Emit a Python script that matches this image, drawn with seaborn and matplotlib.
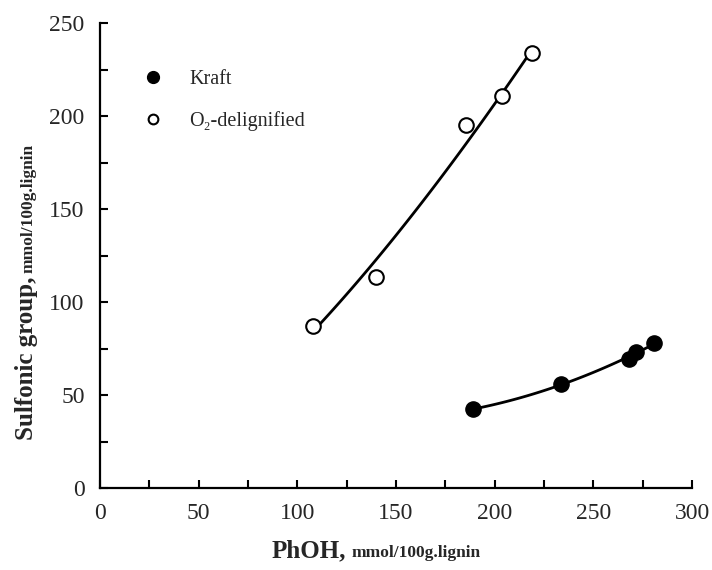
import matplotlib
matplotlib.use("Agg")
import matplotlib.pyplot as plt
import seaborn as sns
import pandas as pd
import numpy as np
from matplotlib.lines import Line2D

# data
kraft_x = [188.9, 233.6, 268.1, 271.6, 280.8]
kraft_y = [42.3, 55.9, 69.2, 73.3, 77.8]
o2_x = [108.0, 139.8, 185.5, 203.7, 219.1]
o2_y = [87.3, 113.6, 195.4, 211.0, 233.8]
x_ticks = [0, 50, 100, 150, 200, 250, 300]
y_ticks = [0, 50, 100, 150, 200, 250]
labels = ["Kraft", "O\u2082-delignified"]

sns.set_style("white")
plt.rcParams['font.family'] = ['Liberation Serif', 'DejaVu Serif']

fig = plt.figure(figsize=(7.12, 5.70), dpi=100)
ax = fig.add_axes([100/712, 82/570, 592/712, 465/570])

kdf = pd.DataFrame({"x": kraft_x, "y": kraft_y})
odf = pd.DataFrame({"x": o2_x, "y": o2_y})

# Kraft: polynomial trend line
sns.regplot(data=kdf, x="x", y="y", order=2, ci=None, scatter=False, ax=ax,
            line_kws=dict(color="black", lw=2.0, zorder=2))
# O2-delignified: power-law trend line fitted to the data
b, lna = np.polyfit(np.log(odf["x"]), np.log(odf["y"]), 1)
xs = np.linspace(odf["x"].min(), odf["x"].max(), 100)
fit = pd.DataFrame({"x": xs, "y": np.exp(lna) * xs ** b})
sns.lineplot(data=fit, x="x", y="y", ax=ax, color="black", lw=2.0, zorder=2)

sns.scatterplot(data=kdf, x="x", y="y", ax=ax, marker="o", s=120,
                color="black", edgecolor="black", linewidth=1, zorder=3)
sns.scatterplot(data=odf, x="x", y="y", ax=ax, marker="o", s=110,
                facecolor="white", edgecolor="black", linewidth=1.5, zorder=3)

ax.set_xlim(0, 300)
ax.set_ylim(0, 250)
ax.set_xticks(x_ticks)
ax.set_yticks(y_ticks)
ax.set_xticks(range(0, 301, 25), minor=True)
ax.set_yticks(range(0, 251, 25), minor=True)
ax.set_xticklabels([str(t) for t in x_ticks])
ax.set_yticklabels([str(t) for t in y_ticks])
ax.tick_params(which="both", direction="in", length=6, width=1.5, color="black",
               bottom=True, left=True, top=False, right=False)
ax.tick_params(axis="x", which="major", labelsize=17, pad=11)
ax.tick_params(axis="y", which="major", labelsize=17, pad=11)
ax.set_xlabel("")
ax.set_ylabel("")
for s in ["top", "right"]:
    ax.spines[s].set_visible(False)
for s in ["left", "bottom"]:
    ax.spines[s].set_linewidth(1.6)
    ax.spines[s].set_color("black")

handles = [
    Line2D([], [], ls="none", marker="o", markersize=8.5, color="black"),
    Line2D([], [], ls="none", marker="o", markersize=7, markerfacecolor="white",
           markeredgecolor="black", markeredgewidth=1.5),
]
ax.legend(handles, labels, loc="upper left", bbox_to_anchor=(0.0726, 0.90),
          frameon=False, fontsize=14.5, handlelength=1.0, handletextpad=1.3,
          labelspacing=1.1, borderpad=0, borderaxespad=0)

# axis labels (bold main part + small bold unit part)
fig.text(346/712, 1 - 557/570, "PhOH,", ha="right", va="baseline",
         fontsize=18, fontweight="bold")
fig.text(352/712, 1 - 557/570, "mmol/100g.lignin", ha="left", va="baseline",
         fontsize=12.5, fontweight="bold")
fig.text(33/712, 1 - 277/570, "Sulfonic group,", ha="right", va="baseline",
         rotation=90, rotation_mode="anchor", fontsize=18, fontweight="bold")
fig.text(33/712, 1 - 273/570, "mmol/100g.lignin", ha="left", va="baseline",
         rotation=90, rotation_mode="anchor", fontsize=12.5, fontweight="bold")

fig.savefig("out.png", dpi=100)
